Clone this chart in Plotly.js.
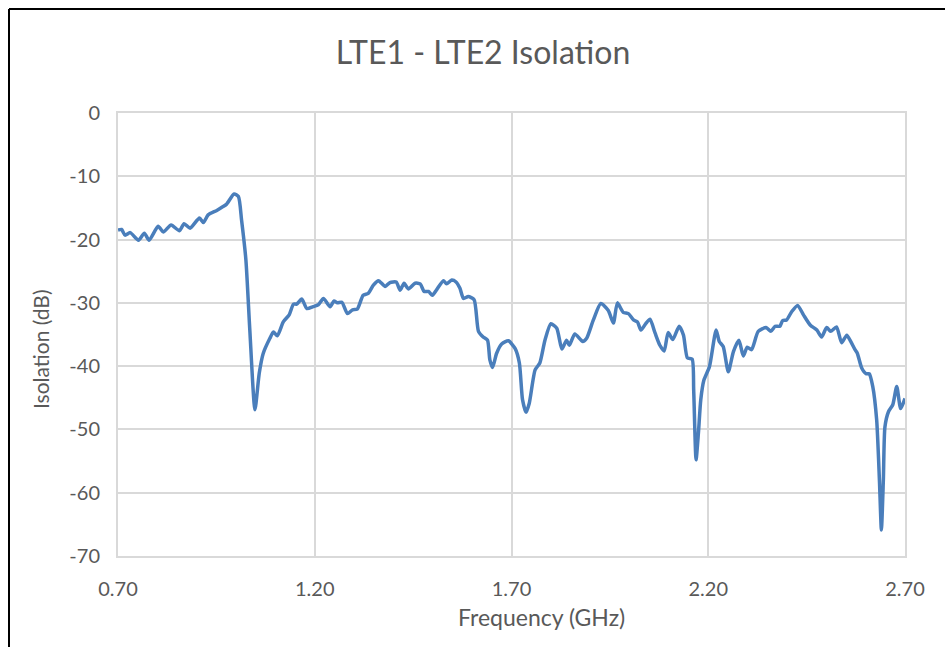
<!DOCTYPE html>
<html>
<head>
<meta charset="utf-8">
<script src="https://cdn.plot.ly/plotly-3.0.1.min.js"></script>
<style>
html,body{margin:0;padding:0;background:#fff;}
#chart{width:945px;height:647px;}
</style>
</head>
<body>
<div id="chart"></div>
<script>
const frequency = [0.700,0.709,0.718,0.731,0.752,0.767,0.779,0.802,0.815,0.835,0.856,0.868,0.883,0.907,0.917,0.929,0.951,0.964,0.976,0.995,1.006,1.014,1.025,1.035,1.048,1.059,1.069,1.086,1.095,1.105,1.120,1.135,1.146,1.154,1.167,1.180,1.196,1.209,1.222,1.239,1.249,1.257,1.269,1.283,1.296,1.308,1.323,1.336,1.349,1.362,1.379,1.391,1.407,1.417,1.427,1.438,1.455,1.468,1.478,1.489,1.499,1.510,1.527,1.535,1.548,1.559,1.569,1.578,1.590,1.605,1.616,1.628,1.639,1.645,1.652,1.662,1.675,1.692,1.709,1.720,1.728,1.737,1.745,1.760,1.772,1.785,1.800,1.815,1.828,1.840,1.847,1.861,1.881,1.891,1.908,1.927,1.946,1.959,1.969,1.984,1.997,2.010,2.020,2.029,2.042,2.052,2.065,2.077,2.088,2.098,2.110,2.126,2.137,2.147,2.159,2.163,2.169,2.175,2.181,2.189,2.203,2.220,2.228,2.238,2.251,2.264,2.278,2.289,2.299,2.310,2.327,2.347,2.359,2.370,2.382,2.389,2.399,2.412,2.427,2.442,2.459,2.476,2.488,2.501,2.511,2.526,2.539,2.552,2.562,2.573,2.579,2.590,2.601,2.609,2.618,2.628,2.635,2.640,2.645,2.649,2.658,2.669,2.679,2.689,2.700];
const isolation = [-18.5,-18.4,-19.3,-18.9,-20.1,-19.0,-20.1,-17.9,-18.8,-17.7,-18.6,-17.5,-18.2,-16.6,-17.3,-16.1,-15.4,-14.9,-14.4,-12.8,-13.2,-16.9,-23.2,-34.3,-46.9,-41.1,-38.0,-35.6,-34.6,-35.2,-33.0,-31.9,-30.2,-30.2,-29.4,-30.9,-30.6,-30.3,-29.3,-30.6,-29.7,-30.0,-29.9,-31.7,-31.1,-31.0,-28.8,-28.5,-27.2,-26.5,-27.4,-26.8,-26.7,-28.0,-26.9,-27.8,-26.9,-27.0,-28.2,-28.2,-28.8,-27.9,-26.5,-27.0,-26.4,-26.7,-27.7,-29.3,-29.0,-29.5,-34.5,-35.4,-35.9,-39.0,-40.2,-38.0,-36.5,-36.0,-37.2,-39.5,-45.3,-47.3,-45.9,-40.6,-39.5,-35.9,-33.3,-34.0,-37.3,-35.9,-36.7,-34.9,-36.1,-35.6,-32.7,-30.1,-31.2,-33.2,-30.0,-31.5,-31.7,-32.7,-33.0,-34.3,-33.2,-32.6,-34.8,-36.7,-37.6,-34.7,-35.8,-33.7,-35.1,-38.7,-38.9,-43.8,-54.8,-50.6,-45.3,-42.2,-40.1,-34.3,-36.1,-36.9,-40.9,-37.7,-35.9,-38.4,-37.0,-37.4,-34.5,-33.9,-34.5,-33.7,-33.7,-32.8,-32.7,-31.4,-30.4,-31.9,-33.5,-34.3,-35.4,-33.9,-34.5,-33.8,-36.3,-35.1,-36.1,-37.4,-38.0,-40.3,-41.2,-41.2,-43.2,-48.5,-58.0,-65.9,-58.0,-49.6,-47.2,-46.1,-43.2,-46.7,-45.1];
const xTicks = [0.70,1.20,1.70,2.20,2.70];
const xTickLabels = ["0.70","1.20","1.70","2.20","2.70"];
const yTicks = [0,-10,-20,-30,-40,-50,-60,-70];
const yTickLabels = ["0","-10","-20","-30","-40","-50","-60","-70"];
const chartTitle = 'LTE1 - LTE2 Isolation';
const xTitle = 'Frequency (GHz)';
const yTitle = 'Isolation (dB)';

const FONT = "Lato, 'Open Sans', sans-serif";
const trace = {
  x: frequency, y: isolation, type: 'scatter', mode: 'lines',
  line: {color: '#4a7ebb', width: 3.5, shape: 'spline', smoothing: 0.6},
  hoverinfo: 'skip'
};
// plot area: x 118..905, y 113..556
const L = 118, R = 945-905, T = 113, B = 647-556;
const pw = 945-L-R, ph = 647-T-B;
const px = v => (v - L)/pw;
const py = v => (647 - B - v)/ph;
const layout = {
  width: 945, height: 647,
  margin: {l: L, r: R, t: T, b: B, pad: 0},
  paper_bgcolor: '#ffffff', plot_bgcolor: '#ffffff',
  showlegend: false,
  font: {family: FONT, color: '#595959', size: 20},
  title: {text: chartTitle, font: {family: FONT, size: 32, color: '#595959'},
          x: 483/945, xref: 'container', xanchor: 'center', y: 1 - 53/647, yref: 'container', yanchor: 'middle'},
  xaxis: {
    range: [0.70, 2.70], tickvals: xTicks, ticktext: xTickLabels,
    showgrid: true, gridcolor: '#d9d9d9', gridwidth: 2,
    showline: true, linecolor: '#d9d9d9', linewidth: 2, mirror: true,
    zeroline: false, ticks: '', ticklen: 0, ticklabelstandoff: 14,
    automargin: false,
    tickfont: {family: FONT, size: 20, color: '#595959'}
  },
  yaxis: {
    range: [-70, 0], tickvals: yTicks, ticktext: yTickLabels,
    showgrid: true, gridcolor: '#d9d9d9', gridwidth: 2,
    showline: true, linecolor: '#d9d9d9', linewidth: 2, mirror: true,
    zeroline: false, ticks: '', ticklen: 0, ticklabelstandoff: 12,
    automargin: false,
    tickfont: {family: FONT, size: 20, color: '#595959'}
  },
  annotations: [
    {text: xTitle, xref: 'paper', yref: 'paper', x: px(541), y: py(617), xanchor: 'center', yanchor: 'middle',
     showarrow: false, font: {family: FONT, size: 23, color: '#595959'}},
    {text: yTitle, xref: 'paper', yref: 'paper', x: px(40), y: py(349), xanchor: 'center', yanchor: 'middle',
     textangle: -90, showarrow: false, font: {family: FONT, size: 21, color: '#595959'}}
  ],
  shapes: [
    {type: 'line', xref: 'paper', yref: 'paper', x0: px(9), x1: px(960), y0: py(9), y1: py(9), line: {color: '#000', width: 2}},
    {type: 'line', xref: 'paper', yref: 'paper', x0: px(9), x1: px(9), y0: py(9), y1: py(660), line: {color: '#000', width: 2}}
  ]
};
Plotly.newPlot('chart', [trace], layout, {displayModeBar: false, staticPlot: true});
</script>
</body>
</html>
